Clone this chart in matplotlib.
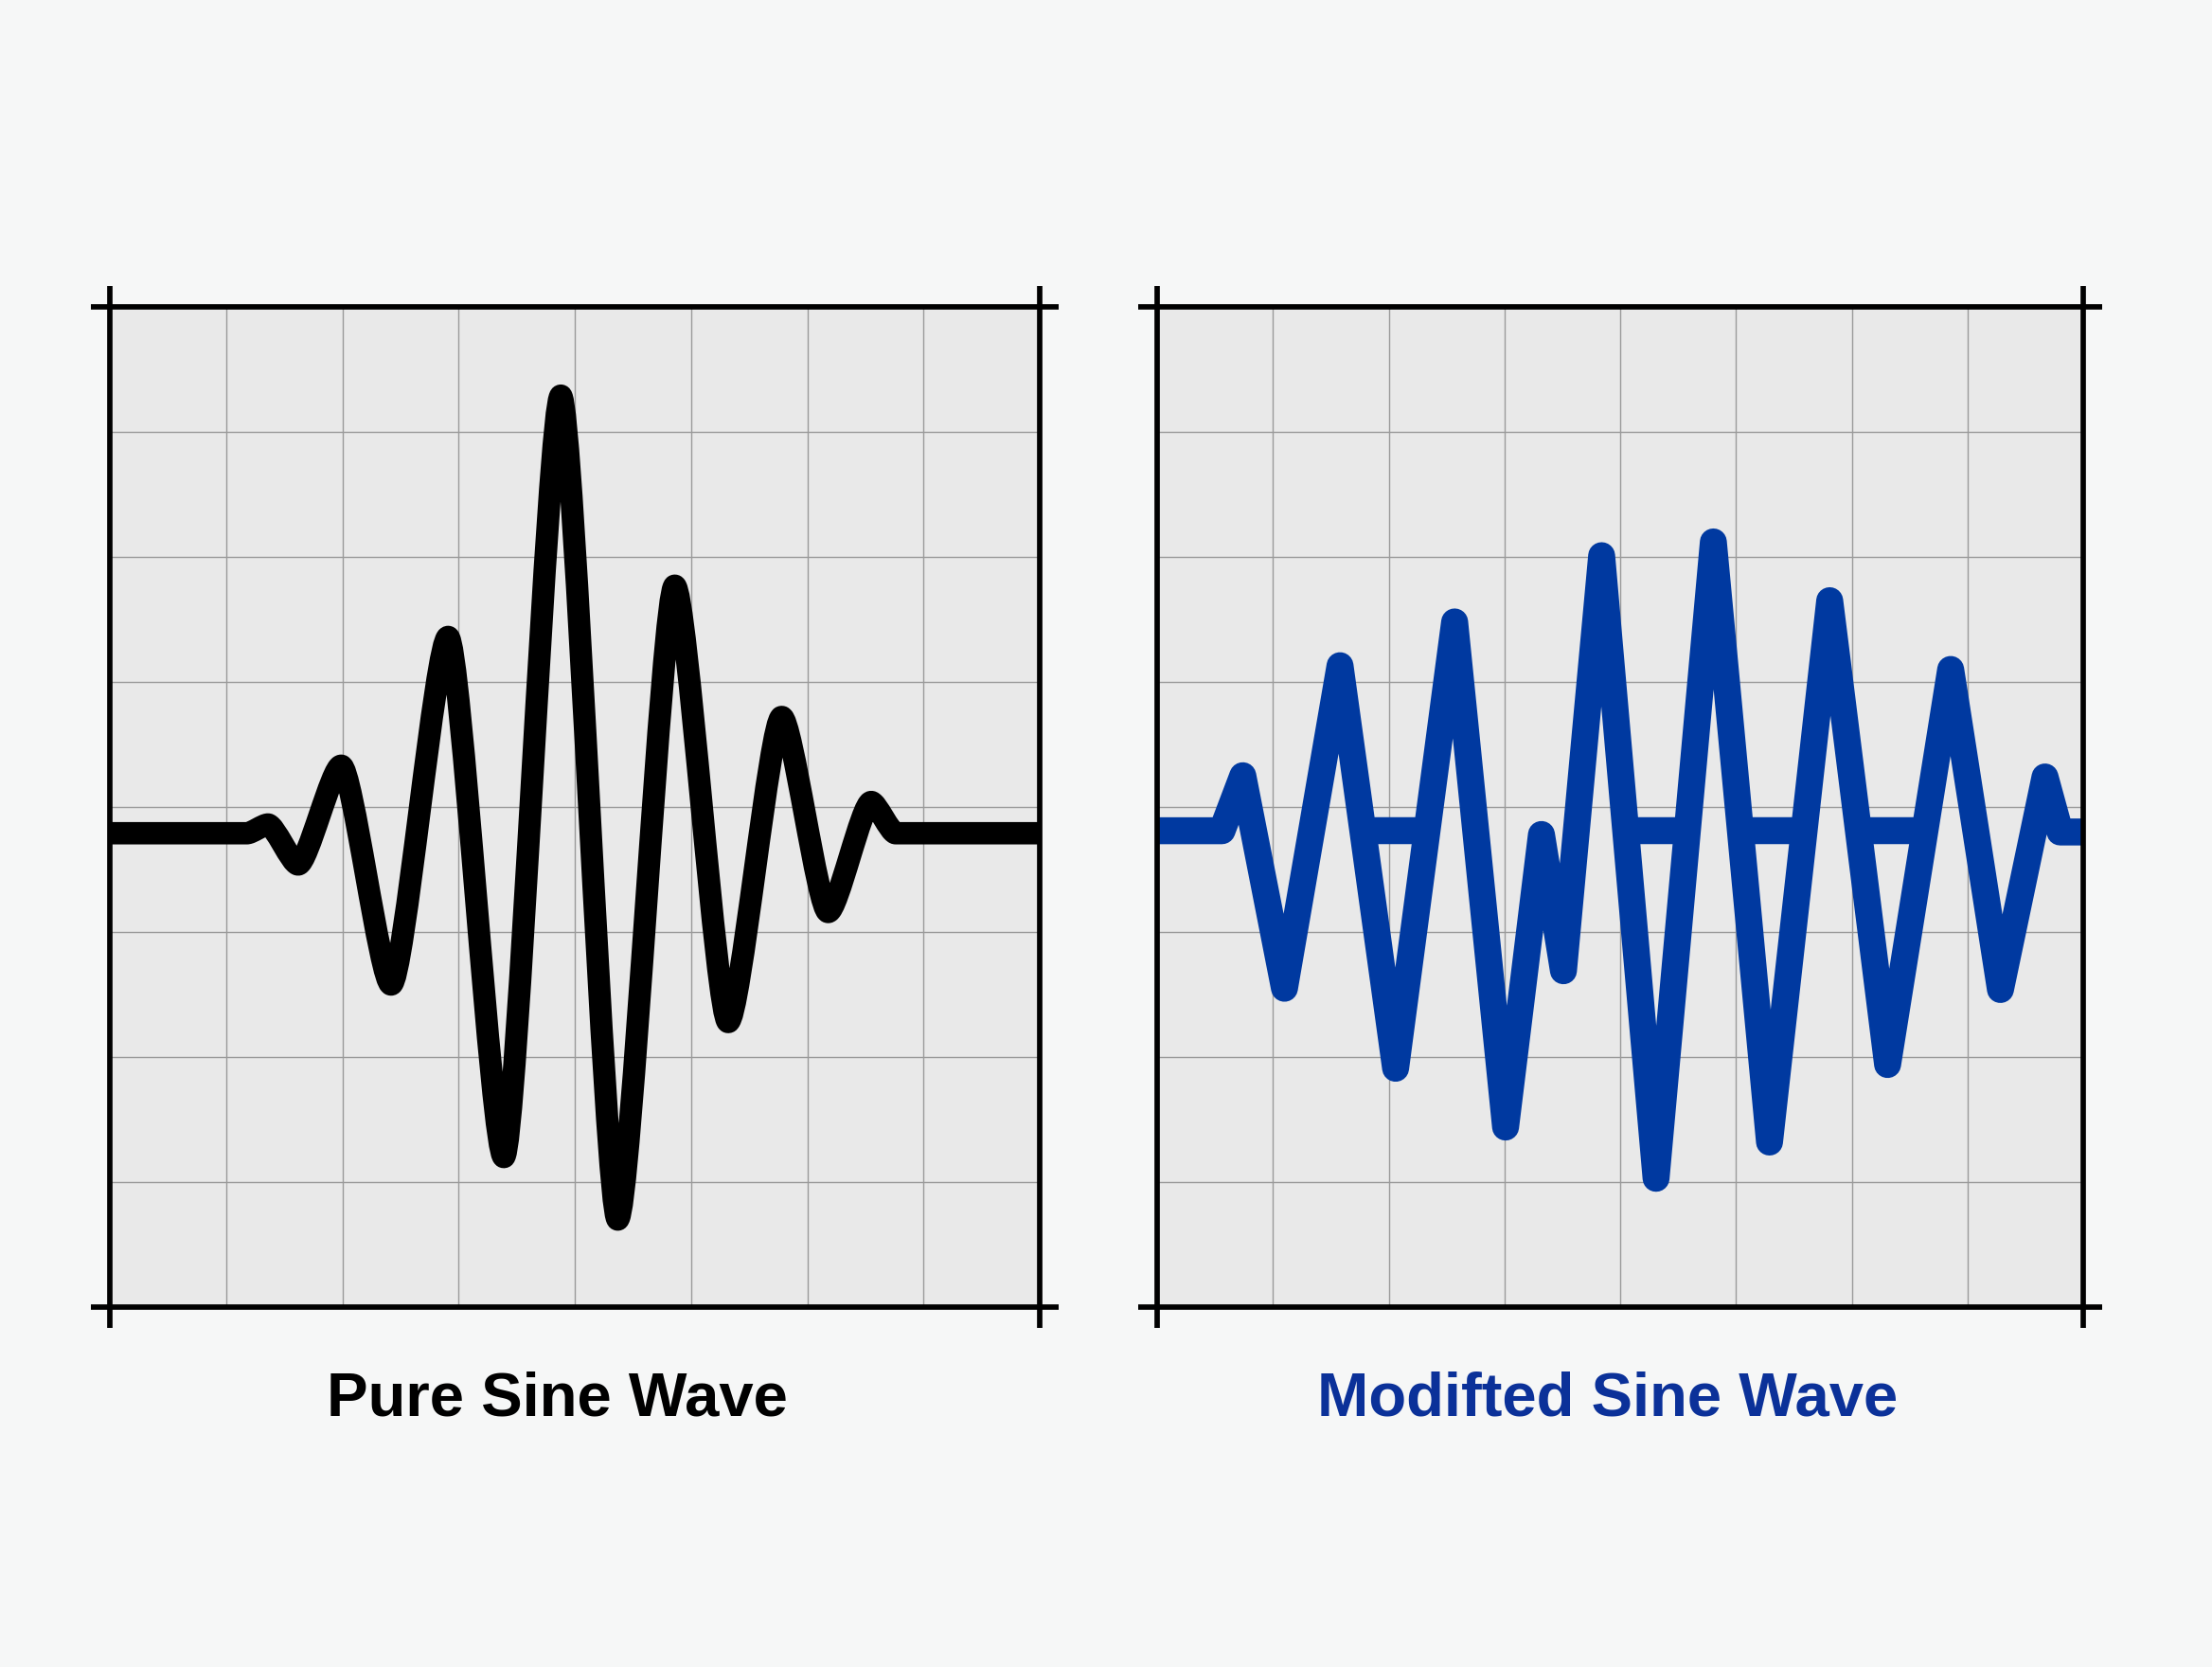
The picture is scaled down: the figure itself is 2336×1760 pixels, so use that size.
import matplotlib.pyplot as plt
from matplotlib.path import Path
from matplotlib.patches import PathPatch

# pure sine wave (black): peaks, troughs and flat ends, grid units
PURE_X = [0, 1.18, 1.36, 1.62, 1.99, 2.42, 2.91, 3.39, 3.88, 4.37, 4.86, 5.32, 5.78, 6.18, 6.55, 6.76, 8]
PURE_Y = [-0.21, -0.21, -0.14, -0.46, 0.33, -1.42, 1.36, -2.80, 3.29, -3.30, 1.77, -1.72, 0.72, -0.84, 0.04, -0.21, -0.21]

# modified sine wave (blue)
MOD_X = [0, 0.56, 0.74, 1.10, 1.58, 2.06, 2.57, 3.01, 3.32, 3.51, 3.84, 4.31, 4.805, 5.29, 5.81, 6.31, 6.855, 7.285, 7.67, 7.80, 8]
MOD_Y = [-0.19, -0.19, 0.25, -1.45, 1.13, -2.09, 1.48, -2.56, -0.22, -1.31, 2.01, -2.97, 2.12, -2.68, 1.65, -2.06, 1.10, -1.46, 0.24, -0.20, -0.20]

# flat steps of the modified wave
STEP_Y = -0.19
STEP_START = [1.79, 4.05, 5.04, 6.06]
STEP_END = [2.32, 4.58, 5.59, 6.63]

TITLES = ['Pure Sine Wave', 'Modifted Sine Wave']
TITLE_COLORS = ['#000000', '#0b3199']
BLUE = '#0039a0'

fig = plt.figure(figsize=(23.36, 17.6), dpi=100)
fig.patch.set_facecolor('#f6f7f7')

ax1 = fig.add_axes([116 / 2336, 1 - 1380 / 1760, 982 / 2336, 1056 / 1760])
ax2 = fig.add_axes([1222 / 2336, 1 - 1380 / 1760, 978 / 2336, 1056 / 1760])

for ax in [ax1, ax2]:
    ax.set_facecolor('#e9e9e9')
    ax.set_xlim(0, 8)
    ax.set_ylim(-4, 4)
    ax.set_xticks(range(1, 8))
    ax.set_yticks(range(-3, 4))
    ax.tick_params(length=0, labelbottom=False, labelleft=False)
    ax.grid(True, color='#9a9a9a', linewidth=1.0)
    ax.set_axisbelow(True)
    for s in ax.spines.values():
        s.set_visible(False)
    # frame with little crosses at the corners
    ex, ey = 0.165, 0.17
    kw = dict(color='black', linewidth=4.1, clip_on=False, zorder=5, solid_capstyle='butt')
    ax.plot([-ex, 8 + ex], [4, 4], **kw)
    ax.plot([-ex, 8 + ex], [-4, -4], **kw)
    ax.plot([0, 0], [-4 - ey, 4 + ey], **kw)
    ax.plot([8, 8], [-4 - ey, 4 + ey], **kw)

# black wave: bezier pieces with flat tangents at each peak so the tops are round
k = 0.22
verts = [(PURE_X[0], PURE_Y[0])]
codes = [Path.MOVETO]
for i in range(1, len(PURE_X)):
    x0, y0, x1, y1 = PURE_X[i - 1], PURE_Y[i - 1], PURE_X[i], PURE_Y[i]
    dx = x1 - x0
    verts += [(x0 + k * dx, y0), (x1 - k * dx, y1), (x1, y1)]
    codes += [Path.CURVE4] * 3
ax1.add_patch(PathPatch(Path(verts, codes), fill=False, edgecolor='black', linewidth=17,
                        joinstyle='round', capstyle='butt', zorder=3))

ax2.plot(MOD_X, MOD_Y, color=BLUE, linewidth=20.5, solid_joinstyle='round', solid_capstyle='butt', zorder=3)
ax2.hlines([STEP_Y] * len(STEP_START), STEP_START, STEP_END, color=BLUE, linewidth=20.5, capstyle='butt', zorder=3)

fig.text(588 / 2336, 1 - 1494 / 1760, TITLES[0], ha='center', va='baseline', fontsize=47,
         fontweight='bold', family=['Liberation Sans', 'DejaVu Sans'], color=TITLE_COLORS[0])
fig.text(1698 / 2336, 1 - 1494 / 1760, TITLES[1], ha='center', va='baseline', fontsize=47,
         fontweight='bold', family=['Liberation Sans', 'DejaVu Sans'], color=TITLE_COLORS[1])

plt.savefig('out.png', dpi=100, facecolor=fig.get_facecolor())
